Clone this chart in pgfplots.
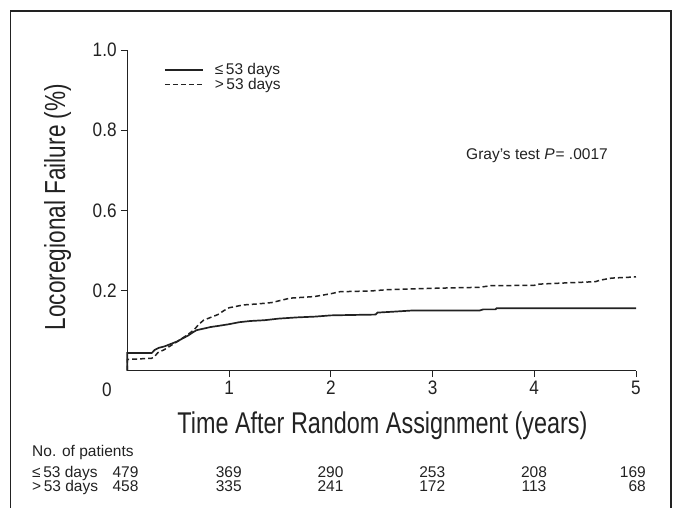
\documentclass[border=0pt]{standalone}
\usepackage{fontspec}
\setmainfont{Liberation Sans}
\newfontfamily\condfont[FakeStretch=0.78]{Liberation Sans}
\newfontfamily\tickfam[FakeStretch=0.88]{Liberation Sans}
\usepackage{pgfplots}
\pgfplotsset{compat=1.18}
\definecolor{ink}{HTML}{222222}

\newcommand\tickfont{\tickfam\fontsize{19.5}{23}\selectfont}
\newcommand\smallfont{\fontsize{15.5}{18}\selectfont}

\begin{document}
\begin{tikzpicture}
\useasboundingbox (0pt,0pt) rectangle (677pt,-508pt);
% outer frame (bottom edge is cut off in the reference)
\draw[line width=1.5pt, ink] (10.5pt,-512pt) -- (10.5pt,-11pt) -- (671pt,-11pt) -- (671pt,-512pt);

\begin{axis}[
    at={(127.3pt,-370.7pt)}, anchor=south west,
    scale only axis, width=508.7pt, height=320.7pt,
    xmin=0, xmax=5, ymin=0, ymax=0.8,
    axis lines=left,
    axis line style={-, line width=1.3pt, ink},
    xtick={1,2,3,4,5}, xticklabels={1,2,3,4,5},
    ytick={0.2,0.4,0.6,0.8}, yticklabels={0.2,0.6,0.8,1.0},
    tick align=outside, major tick length=6.5pt,
    tick style={line width=0.9pt, ink},
    ticklabel style={font=\tickfont, text=ink},
    yticklabel style={inner xsep=4pt},
    xticklabel style={inner ysep=3.5pt},
    /pgf/number format/assume math mode=true,
    clip=false,
    legend cell align=left,
    legend style={at={(0.072,0.965)}, anchor=north west, draw=none, fill=none,
        font=\smallfont, text=ink, row sep=-2pt, inner sep=0pt,
        /tikz/every odd column/.append style={column sep=9pt}},
    legend image code/.code={\draw[#1] (0pt,0pt) -- (38pt,0pt);},
]
% <= 53 days
\addplot[ink, line width=1.7pt] coordinates {
(0,0) (0,0.044) (0.24,0.044) (0.27,0.052) (0.31,0.057) (0.37,0.061) (0.43,0.067)
(0.49,0.073) (0.54,0.080) (0.60,0.088) (0.64,0.095) (0.68,0.101) (0.75,0.105)
(0.82,0.109) (0.90,0.112) (1.00,0.116) (1.10,0.121) (1.21,0.124) (1.35,0.126)
(1.49,0.130) (1.67,0.133) (1.85,0.135) (2.00,0.138) (2.20,0.139) (2.44,0.140)
(2.46,0.145) (2.60,0.147) (2.79,0.150) (3.46,0.150) (3.50,0.153) (3.62,0.153)
(3.63,0.156) (5.00,0.156)};
\addlegendentry{≤\,53 days}
% > 53 days
\addplot[ink, line width=1.5pt, dash pattern=on 5pt off 3pt] coordinates {
(0,0) (0,0.028) (0.24,0.031) (0.27,0.036) (0.30,0.045) (0.36,0.052) (0.43,0.063)
(0.50,0.074) (0.57,0.086) (0.62,0.095) (0.66,0.103) (0.70,0.115) (0.75,0.126)
(0.82,0.133) (0.89,0.140) (0.95,0.150) (1.00,0.157) (1.14,0.164) (1.30,0.167)
(1.42,0.170) (1.60,0.181) (1.84,0.185) (2.00,0.192) (2.09,0.197) (2.40,0.199)
(2.55,0.202) (2.80,0.204) (3.07,0.206) (3.46,0.208) (3.57,0.212) (4.00,0.213)
(4.05,0.216) (4.31,0.219) (4.60,0.222) (4.65,0.226) (4.76,0.231) (5.00,0.234)};
\addlegendentry{>\,53 days}
\end{axis}

% origin label
\node[font=\tickfont, text=ink] at (107pt,-390pt) {0};

% axis titles
\node[rotate=90, anchor=base, font=\condfont\fontsize{29}{34}\selectfont, text=ink]
    at (65pt,-207pt) {Locoregional Failure (\%)};
\node[anchor=base, font=\condfont\fontsize{30}{36}\selectfont, text=ink]
    at (382.5pt,-433pt) {Time After Random Assignment (years)};

% test annotation
\node[anchor=base west, font=\smallfont, text=ink, inner sep=0pt]
    at (466pt,-159.3pt) {Gray’s test \textit{P}\kern1pt= .0017};

% numbers at risk
\begin{scope}[every node/.style={font=\smallfont, text=ink, inner sep=0pt}]
\node[anchor=base west] at (32pt,-456pt) {No. of patients};
\node[anchor=base west] at (32pt,-477pt) {≤\,53 days};
\node[anchor=base west] at (32pt,-491.5pt) {>\,53 days};
\foreach \x/\a/\b in {125.5/479/458, 228.8/369/335, 330.5/290/241, 432.3/253/172, 534/208/113} {
  \node[anchor=base] at (\x pt,-477pt) {\a};
  \node[anchor=base] at (\x pt,-491.5pt) {\b};
}
\node[anchor=base east] at (646pt,-477pt) {169};
\node[anchor=base east] at (646pt,-491.5pt) {68};
\end{scope}
\end{tikzpicture}
\end{document}
